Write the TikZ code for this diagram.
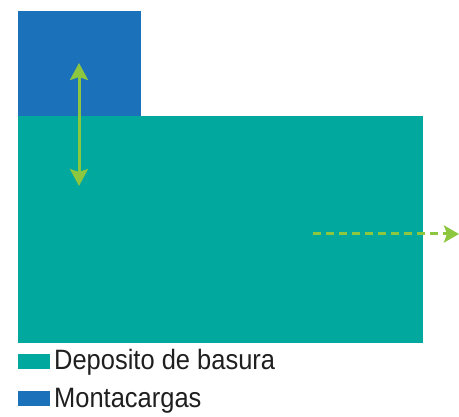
\documentclass[tikz,border=0pt]{standalone}
\usepackage{fontspec}
\setmainfont{Liberation Sans}
\usetikzlibrary{arrows.meta,positioning}
\definecolor{liftblue}{HTML}{1B72BA}
\definecolor{wasteteal}{HTML}{00A89D}
\definecolor{flowgreen}{HTML}{8DC63F}
\tikzset{
  zonebox/.style={
    draw=none,
    inner sep=0pt,
    outer sep=0pt
  },
  swatchbox/.style={
    draw=none,
    inner sep=0pt,
    minimum width=32pt,
    minimum height=15pt
  },
  legendtext/.style={
    inner sep=0pt,
    font=\fontsize{28}{30}\selectfont,
    text=black!88,
    xscale=0.91
  },
  liftarrow/.style={
    {Stealth[length=17pt,width=18pt,inset=3pt]}-{Stealth[length=17pt,width=18pt,inset=3pt]},
    line width=3pt,
    draw=flowgreen
  },
  exitarrow/.style={
    -{Stealth[length=15pt,width=17pt,inset=3pt]},
    line width=3pt,
    dash pattern=on 8pt off 5pt,
    draw=flowgreen
  }
}
\begin{document}
\begin{tikzpicture}[x=1pt,y=-1pt]
\useasboundingbox (0,0) rectangle (459,417);
\node[zonebox, fill=liftblue, minimum width=123pt, minimum height=105pt] (lift) at (79.5,63.5) {};
\node[zonebox, fill=wasteteal, minimum width=405pt, minimum height=227pt] (deposit) at (220.5,229.5) {};
\coordinate (lifttop) at (79,63);
\coordinate (liftbot) at (79,186);
\coordinate (exitstart) at (313,234);
\coordinate (exitend) at (459,234);
\draw[liftarrow] (lifttop) -- (liftbot);
\draw[exitarrow] (exitstart) -- (exitend);
% legend
\node[swatchbox, fill=wasteteal] (keydeposit) at (33.5,361.5) {};
\node[legendtext, anchor=base west] (labdeposit) at (54,370) {Deposito de basura};
\node[swatchbox, fill=liftblue] (keylift) at (33.5,399) {};
\node[legendtext, anchor=base west] (lablift) at (54,408) {Montacargas};
\end{tikzpicture}
\end{document}
